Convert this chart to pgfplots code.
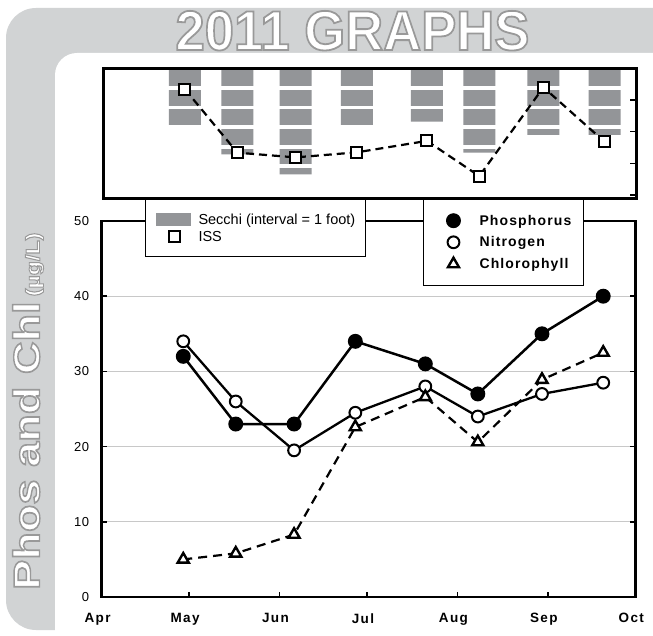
\documentclass[border=0pt]{standalone}
\usepackage{fontspec}
\setmainfont{Liberation Sans}
\newfontfamily\spaced[LetterSpace=8]{Liberation Sans}
\newfontfamily\ticky[LetterSpace=4]{Liberation Sans}
\newfontfamily\wide[LetterSpace=10]{Liberation Sans}
\usepackage{pgfplots}
\pgfplotsset{compat=1.18}

\definecolor{bggray}{RGB}{209,211,212}
\definecolor{secchi}{RGB}{147,149,152}
\definecolor{gridc}{RGB}{200,200,200}

% white text with a grey outline (pdf text render mode 2), #1 = stroke width
\newcommand\outlined[2]{\special{pdf:literal direct 2 Tr #1 w 0.6 G}#2\special{pdf:literal direct 0 Tr}}

\pgfplotsset{
  markonly/.style={legend image code/.code={\path (0pt,0pt) (27pt,0pt); \draw[##1, solid] plot coordinates {(17pt,0pt)};}},
  markiss/.style={legend image code/.code={\path (0pt,0pt) (34.3pt,0pt); \draw[##1, solid] plot coordinates {(18pt,0pt)};}},
  secchileg/.style={legend image code/.code={\fill[secchi] (0pt,-5.85pt) rectangle (34.3pt,5.85pt);}},
  phos/.style={black, line width=2.5pt, mark=*, mark size=6.2pt, mark options={solid, fill=black}},
  nitro/.style={black, line width=2.3pt, mark=*, mark size=5.9pt, mark options={solid, fill=white, draw=black, line width=2pt}},
  chl/.style={black, line width=2.2pt, dash pattern=on 9pt off 6pt, mark=triangle*, mark size=6.4pt, mark options={solid, fill=white, draw=black, line width=2.4pt}},
}

\begin{document}
\begin{tikzpicture}[x=1pt,y=1pt]
\useasboundingbox (0,0) rectangle (653,635);
\clip (0,0) rectangle (653,635);
\fill[white] (0,0) rectangle (653,635);
\fill[bggray, rounded corners=30pt] (6,5) rectangle (720,627);
\fill[white, rounded corners=22pt] (55,-60) rectangle (720,582);

% title
\node[white, inner sep=0, anchor=base] at (352.5,585)
    {\outlined{1.8}{\scalebox{0.94}[1]{\bfseries\fontsize{56}{60}\selectfont 2011 GRAPHS}}};

% y label
\node[white, inner sep=0, anchor=base west, rotate=90] at (39.5,45)
    {\outlined{1.4}{\scalebox{1.22}[1]{\bfseries\fontsize{37}{40}\selectfont Phos and Chl}}\hspace{5pt}\outlined{0.9}{\scalebox{1.2}[1]{\bfseries\fontsize{19.4}{22}\selectfont (µg/L)}}};

% main chart
\begin{axis}[
  at={(101.6pt,38pt)}, anchor=south west,
  scale only axis, width=533.7pt, height=376pt,
  xmin=0, xmax=183, ymin=0, ymax=50,
  xtick={0,30,61,91,122,153,183},
  xticklabels={Apr,May,Jun,Jul,Aug,Sep,Oct},
  ytick={0,10,20,30,40,50},
  xtick pos=bottom,
  tick align=inside, major tick length=5pt,
  tick style={black, line width=1.6pt},
  axis line style={line width=2.6pt},
  ymajorgrids, major grid style={gridc, line width=0.9pt},
  xticklabel style={font=\wide\bfseries\fontsize{13.5}{15}\selectfont, xshift=-4pt, yshift=-13pt},
  yticklabel style={font=\ticky\fontsize{13}{15}\selectfont, xshift=-9pt},
  /pgf/number format/assume math mode=true,
  legend cell align=left,
  legend style={at={(0.6017,1.0612)}, anchor=north west, draw=black, line width=1pt,
    fill=white, inner xsep=12pt, inner ysep=16pt, row sep=9.5pt, column sep=14.8pt,
    nodes={inner sep=0pt}, font=\spaced\bfseries\fontsize{14}{16}\selectfont},
]
\addlegendimage{phos, markonly}
\addlegendentry{Phosphorus}
\addlegendimage{nitro, markonly}
\addlegendentry{Nitrogen}
\addlegendimage{chl, markonly}
\addlegendentry{Chlorophyll}
\addplot[nitro, forget plot]
  coordinates {(28,34)(46,26)(66,19.5)(87,24.5)(111,28)(129,24)(151,27)(172,28.5)};
\addplot[chl, forget plot]
  coordinates {(28,5.0)(46,5.8)(66,8.3)(87,22.6)(111,26.6)(129,20.6)(151,28.9)(172,32.5)};
\addplot[phos, forget plot]
  coordinates {(28,32)(46,23)(66,23)(87,34)(111,31)(129,27)(151,35)(172,40)};
\end{axis}

% Secchi bars
\begin{axis}[
  at={(103.3pt,436.7pt)}, anchor=south west,
  scale only axis, width=533.4pt, height=130pt,
  xmin=0, xmax=183, ymin=0, ymax=6.63, y dir=reverse,
  axis line style={draw=none}, xtick=\empty,
  ytick={1,2,3,4,5,6}, yticklabels={}, major tick length=0pt,
  ymajorgrids, major grid style={white, line width=3.8pt},
  axis on top, ybar, bar width=32pt,
]
\addplot[draw=none, fill=secchi]
  coordinates {(28,2.93)(46,4.39)(66,5.41)(87,2.94)(111,2.72)(129,4.3)(151,3.4)(172,3.4)};
\end{axis}

% ISS
\begin{axis}[
  at={(103.3pt,436.7pt)}, anchor=south west,
  scale only axis, width=533.4pt, height=130pt,
  xmin=0, xmax=183, ymin=-0.1, ymax=4,
  xtick=\empty, ytick={0,1,2,3,4}, yticklabels={}, ytick pos=right,
  tick align=inside, major tick length=7pt,
  tick style={black, line width=1.5pt},
  axis line style={line width=2.5pt},
  clip=false,
  legend cell align=left,
  legend style={at={(0.0782,-0.005)}, anchor=north west, draw=black, line width=1pt,
    fill=white, inner xsep=10pt, inner ysep=14pt, row sep=5pt, column sep=6.5pt,
    nodes={inner sep=0pt}, font=\fontsize{14.5}{16}\selectfont},
]
\addlegendimage{secchileg}
\addlegendentry{Secchi (interval = 1 foot)}
\addplot[black, line width=2.2pt, dash pattern=on 8pt off 5pt, mark=square*, mark size=5.5pt,
  mark options={solid, fill=white, draw=black, line width=2pt}, markiss]
  coordinates {(28,3.34)(46,1.34)(66,1.19)(87,1.35)(111,1.71)(129,0.60)(151,3.40)(172,1.68)};
\addlegendentry{ISS}
\end{axis}
\end{tikzpicture}
\end{document}
